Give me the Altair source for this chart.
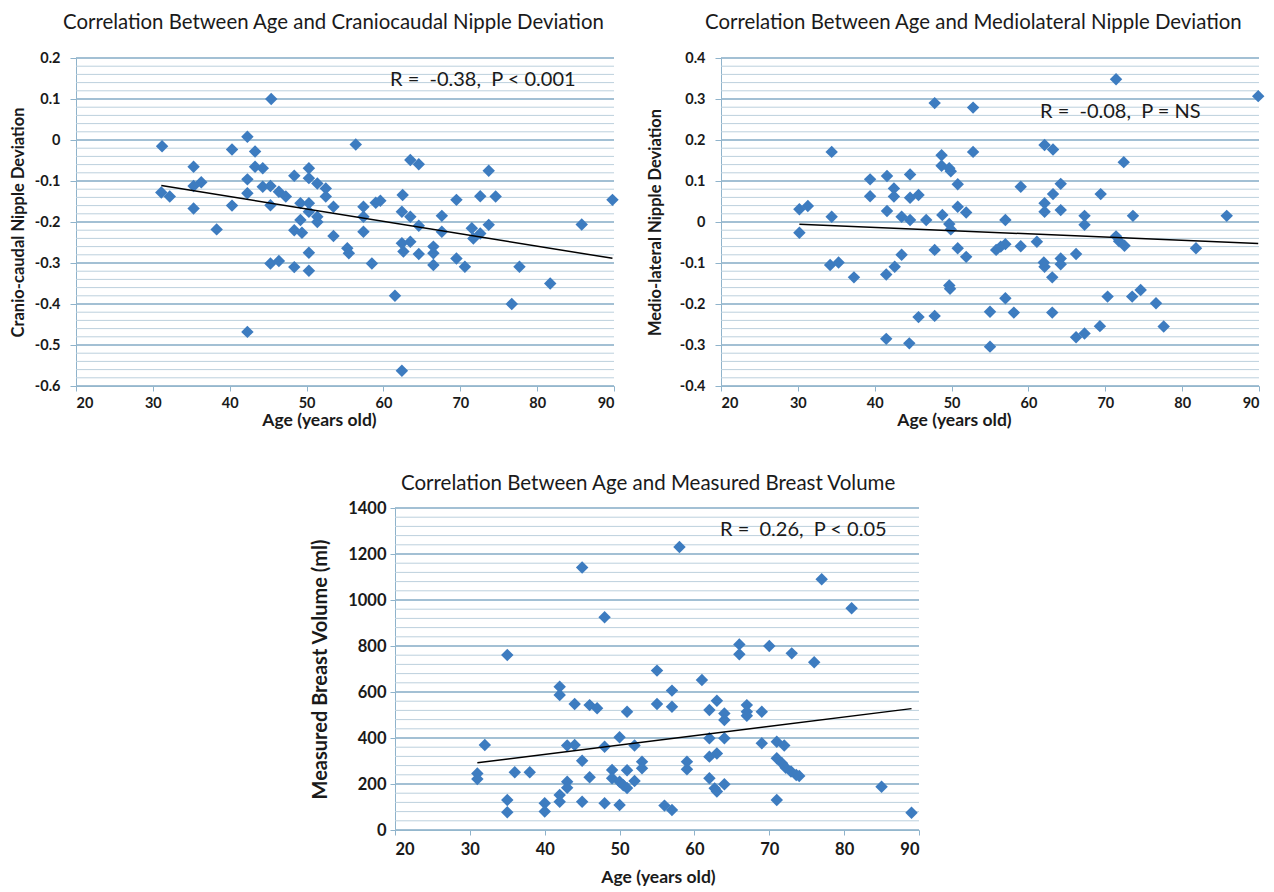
import altair as alt
import pandas as pd
import numpy as np

# ---------------- data ----------------
age_cc = [31.2, 45.4, 42.3, 40.3, 43.3, 56.4, 35.3, 43.3, 44.3, 42.3, 36.3, 35.3, 31.1, 32.2,
          44.3, 45.3, 46.4, 47.3, 48.4, 50.3, 50.3, 51.4, 52.5, 52.5, 42.3, 35.3, 40.3, 45.3,
          49.2, 50.3, 53.5, 57.4, 59.0, 59.6, 50.3, 51.4, 49.2, 51.4, 38.3, 48.4, 49.4, 57.4,
          57.4, 53.5, 55.3, 55.5, 50.3, 45.3, 46.4, 48.4, 50.3, 58.5, 62.6, 64.6, 66.5, 66.5,
          69.5, 70.6, 77.7, 81.7, 61.5, 76.7, 42.3, 62.4, 63.5, 64.6, 73.7, 62.5, 62.4, 63.5,
          64.6, 67.6, 67.6, 69.5, 72.6, 74.6, 73.7, 71.5, 72.6, 71.7, 89.8, 85.8, 62.4, 63.5,
          66.5]
dev_cc = [-0.015, 0.100, 0.008, -0.023, -0.028, -0.011, -0.065, -0.065, -0.069, -0.096, -0.103,
          -0.112, -0.128, -0.138, -0.114, -0.112, -0.126, -0.138, -0.087, -0.069, -0.093, -0.106,
          -0.118, -0.138, -0.130, -0.167, -0.160, -0.159, -0.154, -0.154, -0.163, -0.163, -0.153,
          -0.148, -0.175, -0.187, -0.195, -0.200, -0.218, -0.220, -0.226, -0.187, -0.224, -0.234,
          -0.264, -0.276, -0.275, -0.301, -0.295, -0.310, -0.319, -0.301, -0.272, -0.278, -0.276,
          -0.305, -0.289, -0.309, -0.309, -0.350, -0.380, -0.400, -0.468, -0.563, -0.049, -0.059,
          -0.075, -0.134, -0.175, -0.187, -0.209, -0.185, -0.224, -0.146, -0.137, -0.138, -0.207,
          -0.215, -0.228, -0.240, -0.146, -0.206, -0.252, -0.248, -0.260]

age_ml = [47.8, 52.8, 34.4, 52.8, 48.7, 48.7, 49.7, 49.9, 39.4, 41.6, 44.6, 50.8, 42.5, 42.5,
          39.4, 44.6, 45.7, 30.2, 31.3, 34.4, 41.6, 43.5, 44.6, 46.7, 48.8, 49.7, 49.9, 50.8,
          51.9, 57.0, 30.2, 47.8, 50.8, 51.9, 55.8, 57.0, 43.5, 34.2, 35.3, 37.3, 41.5, 42.6,
          59.0, 61.1, 62.0, 62.1, 64.2, 64.2, 66.2, 63.1, 71.4, 71.8, 72.5, 81.8, 49.7, 49.8,
          45.7, 47.8, 55.0, 57.0, 58.1, 63.1, 70.3, 73.5, 74.6, 76.6, 69.3, 66.2, 67.3, 77.6,
          41.5, 44.5, 55.0, 71.4, 89.9, 62.1, 63.2, 72.4, 59.0, 64.2, 63.2, 69.4, 62.1, 62.1,
          64.2, 67.3, 67.3, 73.6, 85.8, 56.4]
dev_ml = [0.290, 0.279, 0.171, 0.171, 0.163, 0.137, 0.131, 0.124, 0.104, 0.112, 0.116, 0.092,
          0.082, 0.062, 0.063, 0.059, 0.066, 0.031, 0.039, 0.013, 0.027, 0.013, 0.005, 0.005,
          0.017, -0.005, -0.018, 0.037, 0.023, 0.005, -0.026, -0.068, -0.064, -0.085, -0.068,
          -0.054, -0.080, -0.105, -0.099, -0.135, -0.128, -0.109, -0.059, -0.048, -0.099, -0.109,
          -0.089, -0.103, -0.078, -0.135, -0.035, -0.047, -0.058, -0.064, -0.155, -0.163, -0.232,
          -0.229, -0.219, -0.186, -0.221, -0.221, -0.182, -0.182, -0.166, -0.198, -0.254, -0.281,
          -0.272, -0.255, -0.285, -0.296, -0.304, 0.348, 0.307, 0.188, 0.177, 0.146, 0.086, 0.093,
          0.068, 0.068, 0.046, 0.025, 0.029, 0.015, -0.007, 0.015, 0.015, -0.060]

age_vol = [58, 45, 77, 81, 48, 35, 66, 66, 70, 73, 76, 55, 61, 42, 42, 57, 44, 46, 47, 55, 57,
           51, 62, 63, 64, 64, 67, 67, 67, 69, 32, 43, 44, 48, 50, 52, 62, 64, 69, 71, 72, 31,
           31, 36, 38, 45, 46, 49, 49, 50, 50.5, 51, 51, 52, 53, 53, 59, 59, 62, 63, 62, 62.7,
           63, 64, 43, 43, 42, 42, 35, 35, 40, 40, 45, 48, 50, 56, 57, 71, 71, 71.7, 72.2, 72.9,
           73.6, 74, 85, 89]
vol = [1230, 1141, 1090, 964, 925, 761, 807, 764, 800, 768, 729, 693, 652, 623, 587, 606, 548,
       543, 529, 548, 536, 514, 522, 562, 507, 478, 543, 514, 497, 514, 370, 367, 370, 362, 403,
       367, 399, 399, 377, 384, 367, 246, 222, 251, 251, 301, 229, 261, 225, 210, 195, 183, 260,
       213, 297, 268, 297, 264, 319, 333, 225, 181, 167, 199, 210, 184, 152, 123, 130, 77, 116,
       80, 123, 116, 109, 106, 87, 130, 312, 290, 271, 254, 239, 235, 188, 75]

x_ticks = [20, 30, 40, 50, 60, 70, 80, 90]
ticks_cc = [0.2, 0.1, 0.0, -0.1, -0.2, -0.3, -0.4, -0.5, -0.6]
ticks_ml = [0.4, 0.3, 0.2, 0.1, 0.0, -0.1, -0.2, -0.3, -0.4]
ticks_vol = [0, 200, 400, 600, 800, 1000, 1200, 1400]

# ---------------- style ----------------
FONT = "Lato"
TXT = "#1a1a1a"
PT = "#3d7cc0"
MAJ = "#8fb3cb"
MIN = "#bcd0dd"
NB = "\u00a0"


def panel(ages, vals, yticks, minor_step, ytitle, title, ann, s):
    df = pd.DataFrame({"age": ages, "val": vals})
    lo, hi = min(yticks), max(yticks)
    ysc = alt.Scale(domain=[lo, hi], nice=False, zero=False)
    xsc = alt.Scale(domain=[20, 90], nice=False, zero=False)
    minor_vals = np.round(np.arange(lo, hi + minor_step / 2, minor_step), 6)
    gminor = pd.DataFrame({"val": minor_vals})
    gmajor = pd.DataFrame({"val": yticks})

    yaxis = alt.Axis(values=yticks, grid=False, title=ytitle, labelExpr=s["lab"],
                     tickColor=MAJ, domainColor=MAJ, tickSize=s["ytick"],
                     labelPadding=s["ylabpad"], titlePadding=s["ytitlepad"],
                     labelFontSize=s["labsize"], titleFontSize=s["ytitlesize"])
    xaxis = alt.Axis(values=x_ticks, grid=False, title="Age (years old)",
                     tickColor=MAJ, domainColor=MAJ, tickSize=5, format="d",
                     labelPadding=s["xlabpad"], titlePadding=s["xtitlepad"],
                     labelFontSize=s["labsize"], titleFontSize=s["xtitlesize"],
                     titleX=s["xtitlex"])

    minor = alt.Chart(gminor).mark_rule(color=MIN, strokeWidth=1).encode(
        y=alt.Y("val:Q", scale=ysc, axis=yaxis))
    major = alt.Chart(gmajor).mark_rule(color=MAJ, strokeWidth=1.4).encode(
        y=alt.Y("val:Q", scale=ysc, axis=yaxis))
    pts = alt.Chart(df).mark_point(shape="diamond", filled=True, size=155, color=PT,
                                   opacity=1).encode(
        x=alt.X("age:Q", scale=xsc, axis=xaxis),
        y=alt.Y("val:Q", scale=ysc, axis=yaxis))
    trend = alt.Chart(df).transform_regression("age", "val").mark_line(
        color="black", strokeWidth=1.5).encode(
        x=alt.X("age:Q", scale=xsc, axis=xaxis), y=alt.Y("val:Q", scale=ysc, axis=yaxis))
    txt = alt.Chart(pd.DataFrame({"t": [ann]})).mark_text(
        align="left", baseline="middle", font=FONT, fontSize=20, color=TXT).encode(
        text="t:N", x=alt.value(s["ann_dx"]), y=alt.value(s["ann_dy"]))
    return alt.layer(minor, major, pts, trend, txt).properties(
        width=s["w"], height=s["h"],
        title=alt.TitleParams(title, font=FONT, fontSize=s["tsize"], fontWeight="normal",
                              color=TXT, anchor="start", frame="group", dx=s["tdx"],
                              offset=s["toff"]))


lab_dec = "datum.value == 0 ? '0' : toString(round(datum.value * 10) / 10)"
lab_int = "toString(datum.value)"

s1 = dict(lab=lab_dec, ytick=6, ylabpad=10, ytitlepad=8, labsize=14.5, ytitlesize=16.5,
          xlabpad=5, xtitlepad=2, xtitlesize=17.5, xtitlex=243, ann_dx=314, ann_dy=22,
          w=538, h=328, tsize=20.4, tdx=-13, toff=17)
s2 = dict(lab=lab_dec, ytick=6, ylabpad=10, ytitlepad=16, labsize=14.5, ytitlesize=16.5,
          xlabpad=5, xtitlepad=2, xtitlesize=17.5, xtitlex=233, ann_dx=319, ann_dy=54,
          w=538, h=328, tsize=20.4, tdx=-16, toff=17)
s3 = dict(lab=lab_int, ytick=5, ylabpad=4, ytitlepad=17, labsize=16.5, ytitlesize=20,
          xlabpad=6, xtitlepad=11, xtitlesize=17.5, xtitlex=263, ann_dx=325, ann_dy=22,
          w=524, h=322, tsize=20.5, tdx=6, toff=6)

p1 = panel(age_cc, dev_cc, ticks_cc, 0.02, "Cranio-caudal Nipple Deviation",
           "Correlation Between Age and Craniocaudal Nipple Deviation",
           "R =" + NB + " -0.38," + NB + " P < 0.001", s1)
p2 = panel(age_ml, dev_ml, ticks_ml, 0.02, "Medio-lateral Nipple Deviation",
           "Correlation Between Age and Mediolateral Nipple Deviation",
           "R =" + NB + " -0.08," + NB + " P = NS", s2)
p3 = panel(age_vol, vol, ticks_vol, 40, "Measured Breast Volume (ml)",
           "Correlation Between Age and Measured Breast Volume",
           "R =" + NB + " 0.26," + NB + " P < 0.05", s3)

spacer = alt.Chart(pd.DataFrame({"a": [0]})).mark_point(opacity=0).properties(
    width=234, height=10)

top = alt.hconcat(p1, p2, spacing=28)
bottom = alt.hconcat(spacer, p3, spacing=0)

chart = alt.vconcat(top, bottom, spacing=44).properties(
    padding={"left": 2, "top": 4, "right": 0, "bottom": 0},
    background="white"
).configure_view(stroke=None).configure_axis(
    labelFont=FONT, labelFontWeight="bold", labelColor=TXT,
    titleFont=FONT, titleFontWeight="bold", titleColor=TXT
).configure_concat(spacing=0)

chart.save("out.html", embed_options={"renderer": "svg", "actions": False})
